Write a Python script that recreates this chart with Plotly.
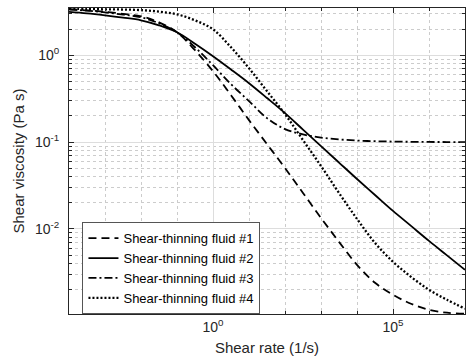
import plotly.graph_objects as go

# Data (log-log), half-decade sampling
shear_rate = [1e-4, 3.16e-4, 1e-3, 3.16e-3, 1e-2, 3.16e-2, 1e-1, 3.16e-1, 1e0, 3.16e0,
              1e1, 3.16e1, 1e2, 3.16e2, 1e3, 3.16e3, 1e4, 3.16e4, 1e5, 3.16e5,
              1e6, 3.16e6, 1e7]
fluid1 = [3.379, 3.290, 3.162, 2.999, 2.807, 2.394, 1.838, 1.142, 0.655, 0.3469,
          0.179, 0.0948, 0.0502, 0.02593, 0.01338, 0.00709, 0.003857, 0.002394, 0.001743, 0.001374,
          0.001172, 0.001083, 0.001054]
fluid2 = [3.162, 3.039, 2.883, 2.713, 2.526, 2.212, 1.838, 1.356, 0.974, 0.685,
          0.4767, 0.322, 0.2154, 0.1392, 0.0899, 0.0581, 0.03756, 0.02459, 0.0161, 0.01083,
          0.00728, 0.00496, 0.00338]
fluid3 = [3.379, 3.265, 3.121, 2.937, 2.734, 2.333, 1.838, 1.236, 0.767, 0.4642,
          0.296, 0.1888, 0.1411, 0.1226, 0.1126, 0.1074, 0.104, 0.1024, 0.1013, 0.1007,
          0.1003, 0.1001, 0.1]
fluid4 = [3.423, 3.405, 3.379, 3.36, 3.308, 3.179, 2.96, 2.526, 1.99, 1.236,
          0.7088, 0.3857, 0.2098, 0.1054, 0.05298, 0.02593, 0.01303, 0.0069, 0.004175, 0.002808,
          0.00199, 0.001527, 0.001204]

names = ["Shear-thinning fluid #1", "Shear-thinning fluid #2",
         "Shear-thinning fluid #3", "Shear-thinning fluid #4"]
series = [fluid1, fluid2, fluid3, fluid4]
dashes = ["8px,5px", "solid", "8px,3px,2px,3px", "2px,2px"]
widths = [1.8, 1.8, 1.8, 2.3]

x_major = [1e0, 1e5]
x_major_text = ["10<sup>0</sup>", "10<sup>5</sup>"]
x_minor = [1e-4, 1e-3, 1e-2, 1e-1, 1e1, 1e2, 1e3, 1e4, 1e6, 1e7]
y_major = [1e-2, 1e-1, 1e0]
y_major_text = ["10<sup>-2</sup>", "10<sup>-1</sup>", "10<sup>0</sup>"]
y_minor = [m * 10.0 ** e for e in (-3, -2, -1, 0) for m in range(2, 10)]

fig = go.Figure()
for name, ys, dsh, w in zip(names, series, dashes, widths):
    fig.add_trace(go.Scatter(
        x=shear_rate, y=ys, name=name, mode="lines",
        line=dict(color="black", width=w, dash=dsh, shape="spline", smoothing=1),
    ))

axis_color = "#262626"
font = "Liberation Sans, Arial, Helvetica, sans-serif"

fig.update_layout(
    width=466, height=364,
    margin=dict(l=69, r=1, t=8, b=50),
    paper_bgcolor="white", plot_bgcolor="white",
    font=dict(family=font, color=axis_color, size=14),
    showlegend=True,
    legend=dict(
        x=0.034, y=0.30, xanchor="left", yanchor="top",
        bgcolor="white", bordercolor="#555555", borderwidth=1,
        font=dict(size=13, color="black"),
        itemwidth=30, tracegroupgap=0,
    ),
    xaxis=dict(
        type="log", range=[-4, 7],
        tickmode="array", tickvals=x_major, ticktext=x_major_text,
        ticks="inside", ticklen=5, tickcolor=axis_color,
        showline=True, linecolor=axis_color, linewidth=1, mirror="allticks",
        showgrid=True, gridcolor="#dddddd", gridwidth=1,
        zeroline=False,
        tickfont=dict(size=14),
        title=dict(text="Shear rate (1/s)", font=dict(size=15), standoff=8),
        minor=dict(tickmode="array", tickvals=x_minor, ticks="inside", ticklen=3,
                   tickcolor=axis_color, showgrid=True, gridcolor="#cccccc",
                   griddash="dot", gridwidth=1),
    ),
    yaxis=dict(
        type="log", range=[-2.98, 0.544],
        tickmode="array", tickvals=y_major, ticktext=y_major_text,
        ticks="inside", ticklen=5, tickcolor=axis_color,
        showline=True, linecolor=axis_color, linewidth=1, mirror="allticks",
        showgrid=True, gridcolor="#dddddd", gridwidth=1,
        zeroline=False,
        tickfont=dict(size=14),
        ticklabelstandoff=6,
        title=dict(text="Shear viscosity (Pa s)", font=dict(size=15), standoff=6),
        minor=dict(tickmode="array", tickvals=y_minor, ticks="inside", ticklen=3,
                   tickcolor=axis_color, showgrid=True, gridcolor="#cccccc",
                   griddash="dot", gridwidth=1),
    ),
)

fig.write_html("out.html")
